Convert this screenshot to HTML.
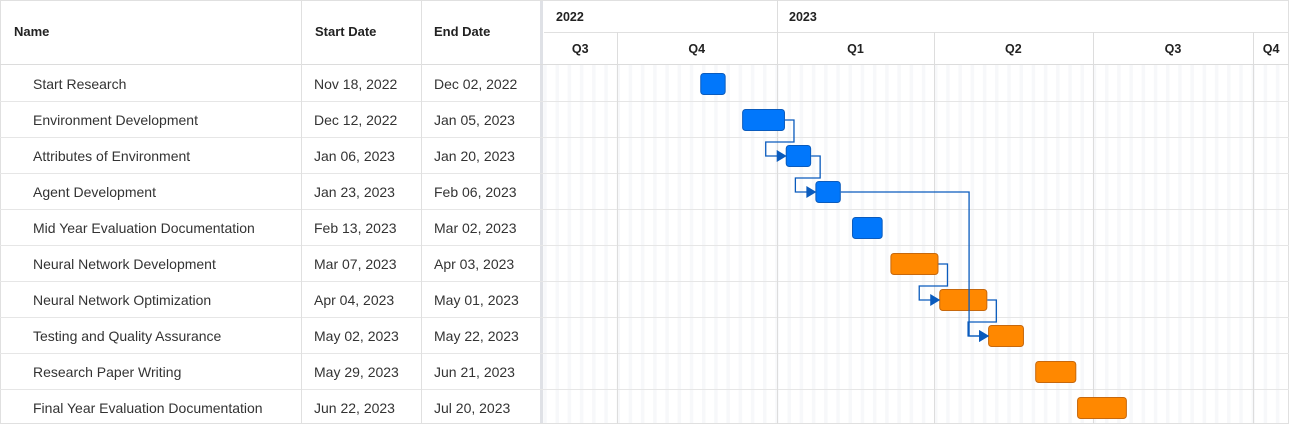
<!DOCTYPE html>
<html><head><meta charset="utf-8"><style>
body{margin:0;width:1289px;height:424px;overflow:hidden;background:#fff;font-family:"Liberation Sans",Arial,sans-serif;}
#grid{position:absolute;left:0;top:0;width:541px;height:424px;}
.cell{position:absolute;font-size:14px;color:#333;line-height:36px;white-space:nowrap;}
.hdr{font-weight:bold;font-size:13px;color:#222;line-height:64px;}
svg text{font-family:"Liberation Sans",Arial,sans-serif;}
</style></head><body>
<div id="grid"></div>
<div style="position:absolute;left:540px;top:0;width:3px;height:424px;background:#dfe1e6"></div>
<svg id="chart" style="position:absolute;left:0;top:0" width="1289" height="424"></svg>
<script>
const names=["Start Research","Environment Development","Attributes of Environment","Agent Development","Mid Year Evaluation Documentation","Neural Network Development","Neural Network Optimization","Testing and Quality Assurance","Research Paper Writing","Final Year Evaluation Documentation"];
const starts=["2022-11-18","2022-12-12","2023-01-06","2023-01-23","2023-02-13","2023-03-07","2023-04-04","2023-05-02","2023-05-29","2023-06-22"];
const ends=["2022-12-02","2023-01-05","2023-01-20","2023-02-06","2023-03-02","2023-04-03","2023-05-01","2023-05-22","2023-06-21","2023-07-20"];
const kinds=["a","a","a","a","a","b","b","b","b","b"];
const deps=[[1,2],[2,3],[3,7],[5,6],[6,7]];
const quarters=[["Q3","2022-08-20"],["Q4","2022-10-01"],["Q1","2023-01-01"],["Q2","2023-04-01"],["Q3","2023-07-01"],["Q4","2023-10-01"]];
const years=[["2022","2022-08-20"],["2023","2023-01-01"]];
const MON=["Jan","Feb","Mar","Apr","May","Jun","Jul","Aug","Sep","Oct","Nov","Dec"];
const fmt=s=>{const[y,m,d]=s.split("-");return MON[+m-1]+" "+d+", "+y;};
const DAY=86400000, T0=Date.UTC(2023,0,1), X0=777, PX=157/90;
const xs=s=>{const[y,m,d]=s.split("-").map(Number);return X0+(Date.UTC(y,m-1,d)-T0)/DAY*PX;};
const rowTop=i=>65+i*36;
const g=document.getElementById("grid");
function cell(txt,x,y,w,cls,name){const d=document.createElement("div");d.className="cell "+(cls||"");d.style.left=x+"px";d.style.top=y+"px";d.textContent=txt;


g.appendChild(d);}
cell("Name",14,0,0,"hdr","name-header");cell("Start Date",315,0,0,"hdr","start-date-header");cell("End Date",434,0,0,"hdr","end-date-header");
names.forEach((n,i)=>{const y=rowTop(i)+1;cell(n,33,y,0,"","task-name");cell(fmt(starts[i]),314,y,0,"","task-start");cell(fmt(ends[i]),434,y,0,"","task-end");});
const svg=document.getElementById("chart");const NS="http://www.w3.org/2000/svg";
function el(t,a,name){const e=document.createElementNS(NS,t);for(const k in a)e.setAttribute(k,a[k]);


svg.appendChild(e);return e;}
for(let t=Date.UTC(2022,7,20);t<Date.UTC(2023,9,20);t+=DAY){const dw=new Date(t).getUTCDay();if(dw===6){const x=X0+(t-T0)/DAY*PX;el("rect",{x:x,y:65,width:2*PX,height:359,fill:"#f7f8fa"},"weekend-stripe");}}
el("rect",{x:0.5,y:0.5,width:1288,height:423,fill:"none",stroke:"#e0e0e0"},"outer-border");
el("line",{x1:0,y1:64.5,x2:1289,y2:64.5,stroke:"#dcdcdc"},"header-line");
el("line",{x1:544,y1:32.5,x2:1289,y2:32.5,stroke:"#e0e0e0"},"year-line");
for(let i=1;i<names.length;i++)el("line",{x1:0,y1:rowTop(i)+0.5,x2:1289,y2:rowTop(i)+0.5,stroke:"#e6e6e6"},"row-line");
[301.5,421.5].forEach(x=>el("line",{x1:x,y1:0,x2:x,y2:424,stroke:"#e0e0e0"},"col-line"));
quarters.forEach((q,i)=>{const x=Math.max(544,xs(q[1]));if(i>0)el("line",{x1:Math.round(x)+0.5,y1:32,x2:Math.round(x)+0.5,y2:424,stroke:"#dddddd"},"quarter-line");
const nx=i<quarters.length-1?xs(quarters[i+1][1]):1289;const t=el("text",{x:(x+nx)/2,y:53,"text-anchor":"middle","font-size":"12.5","font-weight":"bold",fill:"#222"},"quarter-label");t.textContent=q[0];});
years.forEach((y,i)=>{const x=Math.max(544,xs(y[1]));if(i>0)el("line",{x1:Math.round(x)+0.5,y1:0,x2:Math.round(x)+0.5,y2:32,stroke:"#dddddd"},"year-divider");
const t=el("text",{x:x+12,y:21,"font-size":"12.5","font-weight":"bold",fill:"#222"},"year-label");t.textContent=y[0];});
const bx=[],bw=[];
names.forEach((n,i)=>{const x=xs(starts[i]),w=xs(ends[i])-x;bx.push(x);bw.push(w);
const b=kinds[i]==="a";el("rect",{x:x+0.5,y:rowTop(i)+8.5,width:w,height:21,rx:3,fill:b?"#0177fb":"#ff8800",stroke:b?"#0a5bbd":"#c7680c"},"task-bar");});
deps.forEach(([a,b])=>{const ex=bx[a]+bw[a]+1,cy=rowTop(a)+19,ty=rowTop(b)+19,sx=bx[b];let d;
if(b===a+1){const mx=ex+9,hy=rowTop(a+1)+5,lx=sx-20;d=`M${ex} ${cy}H${mx}V${hy}H${lx}V${ty}H${sx-8}`;}
else{const mx=sx-19;if(mx>ex){d=`M${ex} ${cy}H${mx}V${ty}H${sx-8}`;}else{const mx2=ex+9,hy=rowTop(b)+5;d=`M${ex} ${cy}H${mx2}V${hy}H${sx-20}V${ty}H${sx-8}`;}}
el("path",{d:d,fill:"none",stroke:"#0a5bbd","stroke-width":1.3},"dependency-line");
el("path",{d:`M${sx-9} ${ty-6}L${sx+1} ${ty}L${sx-9} ${ty+6}Z`,fill:"#0a5bbd"},"dependency-arrow");});
</script></body></html>
